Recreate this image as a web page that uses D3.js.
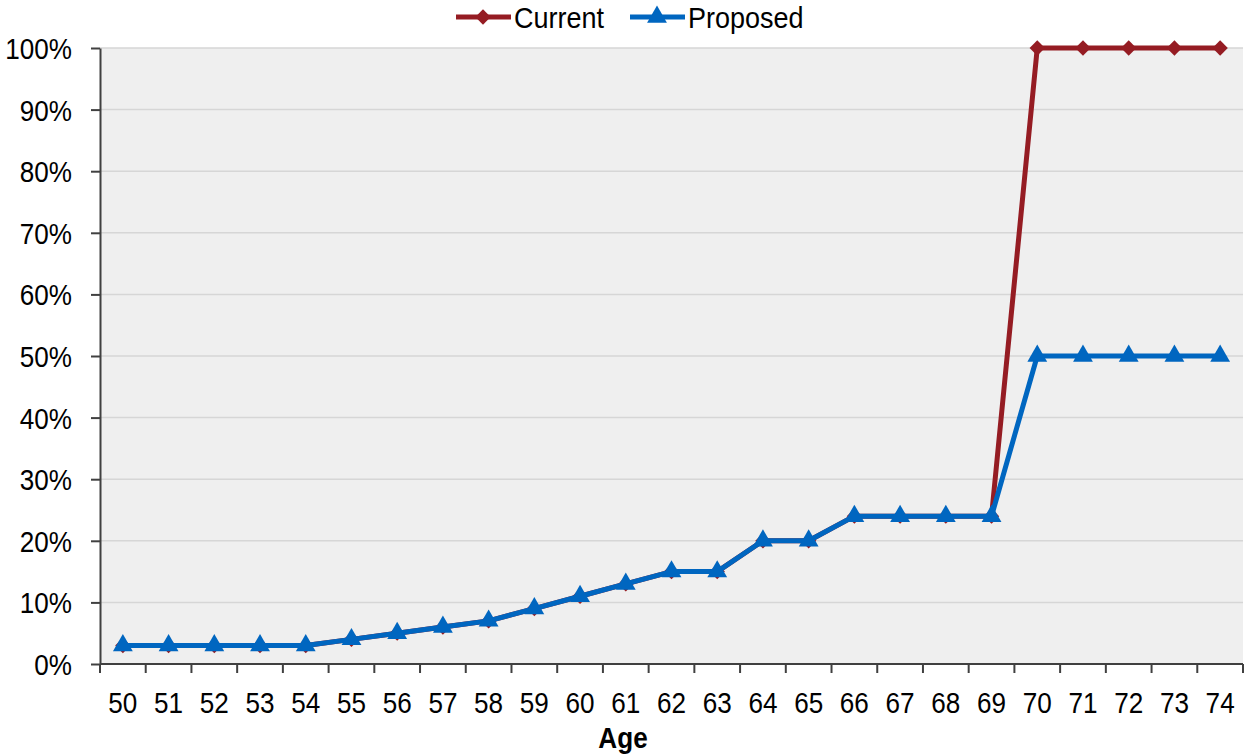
<!DOCTYPE html>
<html>
<head>
<meta charset="utf-8">
<script src="https://cdn.jsdelivr.net/npm/d3@7"></script>
<style>
  body { margin: 0; background: #fff; }
  svg text { font-family: "Liberation Sans", Arial, sans-serif; fill: #000; }
</style>
</head>
<body>
<svg id="chart"></svg>
<script>
const ages = [50, 51, 52, 53, 54, 55, 56, 57, 58, 59, 60, 61, 62, 63, 64, 65, 66, 67, 68, 69, 70, 71, 72, 73, 74];
const current = [3, 3, 3, 3, 3, 4, 5, 6, 7, 9, 11, 13, 15, 15, 20, 20, 24, 24, 24, 24, 100, 100, 100, 100, 100];
const proposed = [3, 3, 3, 3, 3, 4, 5, 6, 7, 9, 11, 13, 15, 15, 20, 20, 24, 24, 24, 24, 50, 50, 50, 50, 50];
const yTicks = [0, 10, 20, 30, 40, 50, 60, 70, 80, 90, 100];

const width = 1246, height = 754;
const margin = { top: 48, right: 3, bottom: 90, left: 100 };
const fontSize = 29;
const squeeze = 0.9; // the original font is a bit narrower than Liberation Sans

const svg = d3.select('#chart').attr('width', width).attr('height', height);

// text squeezed horizontally around its anchor point
function label(parent, px, py, str, anchor) {
  return parent.append('text')
    .attr('transform', `translate(${px},${py}) scale(${squeeze},1)`)
    .attr('text-anchor', anchor || 'start')
    .style('font-size', fontSize + 'px')
    .text(str);
}

const x = d3.scaleBand()
  .domain(ages)
  .range([margin.left, width - margin.right]);
const y = d3.scaleLinear()
  .domain([0, 100])
  .range([height - margin.bottom, margin.top]);

// plot background
svg.append('rect')
  .attr('x', margin.left).attr('y', margin.top)
  .attr('width', width - margin.left - margin.right)
  .attr('height', height - margin.top - margin.bottom)
  .attr('fill', '#efefef');

// gridlines
svg.append('g')
  .selectAll('line')
  .data(yTicks.filter(d => d > 0))
  .join('line')
    .attr('x1', margin.left).attr('x2', width - margin.right)
    .attr('y1', d => y(d)).attr('y2', d => y(d))
    .attr('stroke', '#d6d6d6').attr('stroke-width', 1.5);

// y axis
const yAxis = svg.append('g')
  .attr('transform', `translate(${margin.left},0)`)
  .call(d3.axisLeft(y).tickValues(yTicks).tickFormat(d => d + '%').tickSize(9).tickPadding(19).tickSizeOuter(0));
yAxis.select('.domain').attr('stroke', '#404040').attr('stroke-width', 2);
yAxis.selectAll('.tick line').attr('stroke', '#404040').attr('stroke-width', 2);
yAxis.selectAll('text')
  .style('font-size', fontSize + 'px')
  .attr('fill', '#000')
  .attr('dy', '0.36em')
  .attr('x', -28 / squeeze)
  .attr('transform', `scale(${squeeze},1)`);

// x axis, ticks at band edges
const xAxisG = svg.append('g')
  .attr('transform', `translate(0,${y(0)})`);
xAxisG.append('line')
  .attr('x1', margin.left).attr('x2', width - margin.right)
  .attr('stroke', '#404040').attr('stroke-width', 2);
xAxisG.selectAll('line.tk')
  .data(ages.concat(['end']))
  .join('line')
    .attr('class', 'tk')
    .attr('x1', d => d === 'end' ? x.range()[1] : x(d))
    .attr('x2', d => d === 'end' ? x.range()[1] : x(d))
    .attr('y1', 0).attr('y2', 9)
    .attr('stroke', '#404040').attr('stroke-width', 2);
ages.forEach(a => label(xAxisG, x(a) + x.bandwidth() / 2, 49, a, 'middle'));

label(svg, 623, 748, 'Age', 'middle').style('font-weight', 'bold');

const cx = d => x(d) + x.bandwidth() / 2;
const series = [
  { name: 'Current', values: current, color: '#951c23', symbol: d3.symbolDiamond2, size: 150 },
  { name: 'Proposed', values: proposed, color: '#0066c0', symbol: d3.symbolTriangle, size: 170 }
];

const line = d3.line()
  .x(d => cx(d.age))
  .y(d => y(d.v));

series.forEach(s => {
  const pts = ages.map((a, i) => ({ age: a, v: s.values[i] }));
  svg.append('path')
    .datum(pts)
    .attr('d', line)
    .attr('fill', 'none')
    .attr('stroke', s.color)
    .attr('stroke-width', 5)
    .attr('stroke-linejoin', 'round');
  svg.append('g')
    .selectAll('path')
    .data(pts)
    .join('path')
      .attr('transform', d => `translate(${cx(d.age)},${y(d.v)})`)
      .attr('d', d3.symbol(s.symbol, s.size))
      .attr('fill', s.color);
});

// legend
const legend = svg.append('g').attr('transform', 'translate(456,17)');
const legendX = [0, 174];
series.forEach((s, i) => {
  const g = legend.append('g').attr('transform', `translate(${legendX[i]},0)`);
  g.append('line')
    .attr('x1', 0).attr('x2', 55)
    .attr('stroke', s.color).attr('stroke-width', 5);
  g.append('path')
    .attr('transform', 'translate(27,0)')
    .attr('d', d3.symbol(s.symbol, s.size))
    .attr('fill', s.color);
  label(g, 58, 11, s.name).style('font-size', '30px');
});
</script>
</body>
</html>
